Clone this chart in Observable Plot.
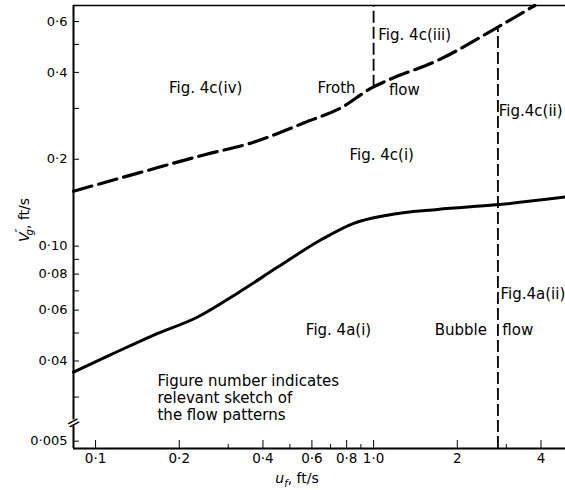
<!DOCTYPE html>
<html><head><meta charset="utf-8">
<script src="https://cdn.jsdelivr.net/npm/d3@7"></script>
<script src="https://cdn.jsdelivr.net/npm/@observablehq/plot@0.6"></script>
<style>body{margin:0;background:#fff}</style>
</head><body><div id="chart"></div>
<script>
// Scale extents (ft/s)
const xDomain = [0.0833, 4.9];
const yDomain = [0.0199, 0.682];

// Tick values and labels
const xMajorTicks = [0.1, 0.2, 0.4, 0.6, 0.8, 1, 2, 4];
const xMajorLabels = ["0·1", "0·2", "0·4", "0·6", "0·8", "1·0", "2", "4"];
const xMinorTicks = [0.3, 0.5, 0.7, 0.9, 3];
const yMajorTicks = [0.6, 0.4, 0.2, 0.1, 0.08, 0.06, 0.04];
const yMajorLabels = ["0·6", "0·4", "0·2", "0·10", "0·08", "0·06", "0·04"];
const yMinorTicks = [0.5, 0.3, 0.09, 0.07, 0.05, 0.03];
// broken axis: the "0·005" tick sits just below the break
const yBreakTickPos = 0.0211;
const yBreakTickLabel = "0·005";
const yBreakGap = [0.0238, 0.0250];
const yBreakMid = 0.0244;

// Bubble-flow boundary (solid)
const bubbleX = [0.0833, 0.113, 0.162, 0.233, 0.324, 0.452, 0.645, 0.848, 1.12, 1.70, 2.75, 4.9];
const bubbleY = [0.0366, 0.042, 0.0492, 0.0568, 0.0687, 0.0846, 0.105, 0.120, 0.128, 0.134, 0.139, 0.148];

// Froth-flow boundary (dashed)
const frothX = [0.0833, 0.142, 0.245, 0.370, 0.560, 0.780, 0.976, 1.12, 1.70, 2.79, 3.80];
const frothY = [0.155, 0.179, 0.207, 0.229, 0.267, 0.305, 0.352, 0.375, 0.440, 0.573, 0.682];

// Vertical dashed boundaries
const vLineX = [1.0, 2.8];
const vLineY1 = [0.355, 0.0199];
const vLineY2 = [0.682, 0.574];

// Region labels
const centerLabels = [
  {text: "Fig. 4c(iv)", x: 0.249, y: 0.352},
  {text: "Froth", x: 0.736, y: 0.352},
  {text: "flow", x: 1.29, y: 0.347},
  {text: "Fig. 4c(i)", x: 1.07, y: 0.207},
  {text: "Fig. 4a(i)", x: 0.748, y: 0.0511},
  {text: "Bubble", x: 2.06, y: 0.0511},
  {text: "flow", x: 3.30, y: 0.0511}
];
const startLabels = [
  {text: "Fig. 4c(iii)", x: 1.04, y: 0.542},
  {text: "Fig.4c(ii)", x: 2.82, y: 0.296},
  {text: "Fig.4a(ii)", x: 2.86, y: 0.0687},
  {text: "Figure number indicates\nrelevant sketch of\nthe flow patterns", x: 0.167, y: 0.0299}
];

const W = 565, H = 490, mL = 73, mR = 0, mT = 5, mB = 42;
const innerW = W - mL - mR, innerH = H - mT - mB;
const yLabelTicks = [...yMajorTicks, yBreakTickPos];
const yLabelTexts = [...yMajorLabels, yBreakTickLabel];

const plot = Plot.plot({
  width: W, height: H,
  marginLeft: mL, marginRight: mR, marginTop: mT, marginBottom: mB,
  style: {fontFamily: "DejaVu Sans, sans-serif", fontSize: "13px", color: "#000", background: "#fff"},
  x: {type: "log", domain: xDomain, axis: null},
  y: {type: "log", domain: yDomain, axis: null},
  marks: [
    // tick labels
    Plot.text(xMajorTicks, {x: d => d, y: yDomain[0], text: (d, i) => xMajorLabels[i], dy: 10, lineAnchor: "middle", fontSize: 13.5, fill: "#000"}),
    Plot.text(yLabelTicks, {x: xDomain[0], y: d => d, text: (d, i) => yLabelTexts[i], dx: -6, textAnchor: "end", fontSize: 13, fill: "#000"}),
    // inward ticks
    Plot.tickX(xMajorTicks, {x: d => d, insetTop: innerH - 8, stroke: "#000"}),
    Plot.tickX(xMinorTicks, {x: d => d, insetTop: innerH - 4, stroke: "#000"}),
    Plot.tickY([...yMajorTicks, ...yMinorTicks, yBreakTickPos], {y: d => d, insetRight: innerW - 6, stroke: "#000"}),
    // frame lines
    Plot.ruleY([yDomain[0]], {stroke: "#000", strokeWidth: 2.2}),
    Plot.ruleY([yDomain[1]], {stroke: "#000", strokeWidth: 1.5}),
    Plot.ruleX([[yDomain[1], yBreakGap[1]], [yBreakGap[0], yDomain[0]]], {x: xDomain[0], y1: d => d[0], y2: d => d[1], stroke: "#000", strokeWidth: 2}),
    Plot.text([yBreakMid], {x: xDomain[0], y: d => d, text: () => "=", rotate: -28, fontSize: 17, fill: "#000"}),
    // boundaries
    Plot.ruleX(vLineX, {x: vLineX, y1: vLineY1, y2: vLineY2, stroke: "#000", strokeWidth: 1.8, strokeDasharray: "12,4"}),
    Plot.line(bubbleX, {x: bubbleX, y: bubbleY, curve: "monotone-x", stroke: "#000", strokeWidth: 3}),
    Plot.line(frothX, {x: frothX, y: frothY, curve: "monotone-x", stroke: "#000", strokeWidth: 3.2, strokeDasharray: "19,7"}),
    // labels
    Plot.text(centerLabels, {x: "x", y: "y", text: "text", textAnchor: "middle", fontSize: 15, fill: "#000"}),
    Plot.text(startLabels, {x: "x", y: "y", text: "text", textAnchor: "start", fontSize: 15, lineHeight: 1.12, fill: "#000"})
  ]
});

const svg = d3.select(plot);
const xl = svg.append("text")
  .attr("x", 297).attr("y", 483).attr("text-anchor", "middle")
  .attr("font-size", 14).attr("fill", "#000");
xl.append("tspan").attr("font-style", "italic").text("u");
xl.append("tspan").attr("dy", 4).attr("font-size", 10).attr("font-style", "italic").text("f");
xl.append("tspan").attr("dy", -4).text(", ft/s");

const yl = svg.append("text")
  .attr("transform", "translate(29,220) rotate(-90)").attr("text-anchor", "middle")
  .attr("font-size", 14).attr("fill", "#000");
yl.append("tspan").attr("font-style", "italic").text("V");
yl.append("tspan").attr("dy", -6).attr("font-size", 11).text("″");
yl.append("tspan").attr("dy", 10).attr("dx", -7).attr("font-size", 10).attr("font-style", "italic").text("g");
yl.append("tspan").attr("dy", -4).text(", ft/s");

document.getElementById("chart").appendChild(plot);
</script>
</body></html>
